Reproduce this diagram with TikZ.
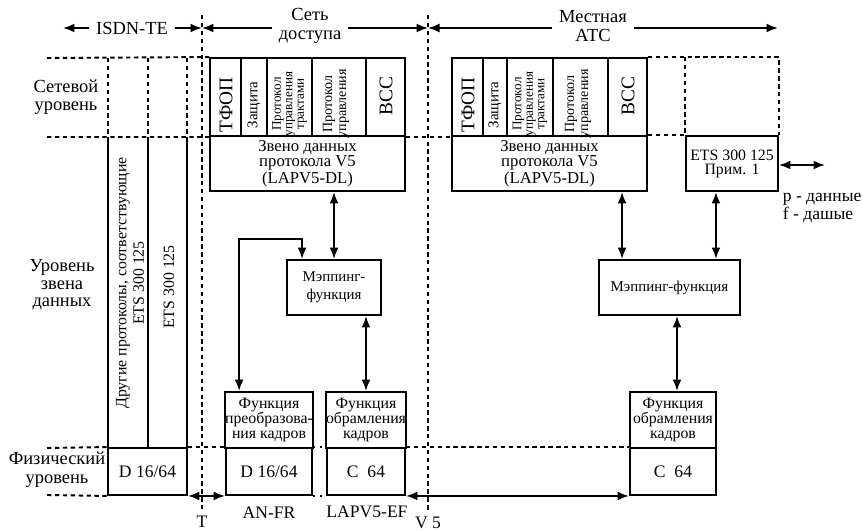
\documentclass[tikz,border=0pt]{standalone}
\usepackage{fontspec}
\setmainfont{Liberation Serif}
\usetikzlibrary{arrows.meta,calc}

\begin{document}
\begin{tikzpicture}[x=0.02cm, y=-0.02cm, line width=1.1pt,
        font=\fontsize{10}{10}\selectfont,
        box/.style = {draw, inner sep=0pt, align=center},
        sized/.style 2 args = {minimum width=#1*0.02cm, minimum height=#2*0.02cm},
        col/.style = {rotate=90, align=center, inner sep=0pt},
        bound/.style = {dash pattern=on 2.5pt off 2pt},
        dots/.style = {dash pattern=on 1pt off 3pt},
        one/.style = {-{Latex[length=2.3mm,width=1.8mm]}},
        dbl/.style = {{Latex[length=2.3mm,width=1.8mm]}-{Latex[length=2.3mm,width=1.8mm]}}]

        \useasboundingbox (0,0) rectangle (863,531);

        % Interfaces T and V5
        \coordinate (Ttop) at (202,15);
        \node (tlab) at (202,522) {T};
        \draw[bound] (Ttop) -- (tlab.north);
        \coordinate (Vtop) at (428,15);
        \node (vlab) at (428,523) {V 5};
        \draw[bound] (Vtop) -- (vlab.north);

        % Headings
        \node[font=\fontsize{10.5}{10.5}\selectfont] (te) at (132,28) {ISDN-TE};
        \coordinate (teL) at (63,28);
        \draw[one] (te.west) -- (teL);
        \draw[one] (te.east) -- (Ttop |- te);
        \node[align=center, font=\fontsize{10.5}{10.5}\selectfont] (an) at (310,26) {Сеть\\доступа};
        \draw[one] (an.west |- te) -- (Ttop |- te);
        \draw[one] (an.east |- te) -- (Vtop |- te);
        \node[align=center, font=\fontsize{10.5}{10.5}\selectfont] (le) at (593,26) {Местная\\АТС};
        \coordinate (leR) at (778,28);
        \draw[one] (le.west |- te) -- (Vtop |- te);
        \draw[one] (le.east |- te) -- (leR);

        % Level names
        \node[align=center, font=\fontsize{10.5}{10.5}\selectfont] (netlev) at (66,97) {Сетевой\\уровень};
        \node[align=center, font=\fontsize{10.5}{10}\selectfont] (linklev) at (62,285) {Уровень\\звена\\данных};
        \node[align=center, font=\fontsize{10.5}{11}\selectfont] (phylev) at (57,470) {Физический\\уровень};

        % ISDN-TE
        \draw[bound] (108,58) -- (108,137);
        \draw[bound] (148,58) -- (148,137);
        \draw[bound] (187,58) -- (187,137);
        \draw (108,137) -- (108,495);
        \draw (148,137) -- (148,448);
        \draw (187,137) -- (187,495);
        \node[col, font=\fontsize{9}{10}\selectfont] (te1) at (130,283) {Другие протоколы, соответствующие\\ETS 300 125};
        \node[col, font=\fontsize{9}{10}\selectfont] (te2) at (169,287) {ETS 300 125};
        \node[box, sized={79}{47}] (tephy) at (147.5,471.5) {D 16/64};

        % Access network: network level
        \node[box, sized={31}{78}] (an1) at (225.5,97) {};
        \node[box, sized={26}{78}] (an2) at (254,97) {};
        \node[box, sized={45}{78}] (an3) at (289.5,97) {};
        \node[box, sized={54}{78}] (an4) at (339,97) {};
        \node[box, sized={39}{78}] (an5) at (385.5,97) {};
        \node[col, font=\fontsize{11}{11}\selectfont] (an1t) at (226,105) {ТФОП};
        \node[col, font=\fontsize{8.5}{8.5}\selectfont] (an2t) at (254,105) {Защита};
        \node[col, font=\fontsize{7.5}{6.5}\selectfont] (an3t) at (289.5,104) {Протокол\\управления\\трактами};
        \node[col, font=\fontsize{8}{8}\selectfont] (an4t) at (336,104) {Протокол\\управления};
        \node[col, font=\fontsize{11}{11}\selectfont] (an5t) at (386,96) {ВСС};

        % Access network: link and physical level
        \node[box, sized={195}{55}, font=\fontsize{9.5}{8.5}\selectfont] (andl) at (307.5,163.5) {Звено данных\\протокола V5\\(LAPV5-DL)};
        \node[box, sized={94}{55}, font=\fontsize{8.5}{10}\selectfont] (anmap) at (334,287.5) {Мэппинг-\\функция};
        \node[box, sized={86}{56}, font=\fontsize{9}{8.5}\selectfont] (anfr) at (269,420) {Функция\\преобразова-\\ния кадров};
        \node[box, sized={86}{47}] (anfrphy) at (269,471.5) {D 16/64};
        \node (anfrlab) at (269,513) {AN-FR};
        \node[box, sized={78}{56}, font=\fontsize{9}{8.5}\selectfont] (anef) at (366,420) {Функция\\обрамления\\кадров};
        \node[box, sized={78}{47}] (anefphy) at (366,471.5) {C~~64};
        \node (aneflab) at (367,512) {LAPV5-EF};

        % Local exchange: network level
        \node[box, sized={31}{78}] (le1) at (467.5,97) {};
        \node[box, sized={24}{78}] (le2) at (495,97) {};
        \node[box, sized={46}{78}] (le3) at (530,97) {};
        \node[box, sized={55}{78}] (le4) at (580.5,97) {};
        \node[box, sized={39}{78}] (le5) at (627.5,97) {};
        \node[col, font=\fontsize{11}{11}\selectfont] (le1t) at (468,105) {ТФОП};
        \node[col, font=\fontsize{8.5}{8.5}\selectfont] (le2t) at (495,105) {Защита};
        \node[col, font=\fontsize{7.5}{6.5}\selectfont] (le3t) at (530,104) {Протокол\\управления\\трактами};
        \node[col, font=\fontsize{8}{8}\selectfont] (le4t) at (578,104) {Протокол\\управления};
        \node[col, font=\fontsize{11}{11}\selectfont] (le5t) at (628,96) {ВСС};

        % Local exchange: link and physical level
        \node[box, sized={195}{55}, font=\fontsize{9.5}{8.5}\selectfont] (ledl) at (549.5,163.5) {Звено данных\\протокола V5\\(LAPV5-DL)};
        \node[box, sized={92}{55}, font=\fontsize{9}{8}\selectfont] (ets) at (732,163.5) {ETS 300 125\\Прим. 1};
        \node[box, sized={141}{55}, font=\fontsize{8.5}{10}\selectfont] (lemap) at (669.5,287.5) {Мэппинг-функция};
        \node[box, sized={86}{56}, font=\fontsize{9}{8.5}\selectfont] (leef) at (673,420) {Функция\\обрамления\\кадров};
        \node[box, sized={86}{47}] (lephy) at (673,471.5) {C~~64};
        \node[align=left, anchor=west] (pf) at (776,208) {p - данные\\f - дашые};

        % Level borders
        \draw[bound] (47,58) -- (an1.north west);
        \draw[bound] (47,137) -- (an1.south west);
        \draw[bound] (an5.south east) -- (le1.south west);
        \draw[bound] (le5.north east) -- (ets.north east |- le5.north) -- (ets.north east);
        \draw[bound] (ets.north west |- le5.north) -- (ets.north west);
        \draw[bound] (ledl.north east) -- (ets.north west);
        \draw[bound] (47,448) -- (tephy.north west);
        \draw[bound] (47,495) -- (tephy.south west);
        \draw[bound] (tephy.north east) -- (anfrphy.north west);
        \draw[dots] (anfrphy.north east) -- (anefphy.north west);
        \draw[dots] (anfrphy.south east) -- (anefphy.south west);
        \draw[bound] (anefphy.north east) -- (lephy.north west);

        % Connections
        \draw[dbl] (tephy.south east) -- (anfrphy.south west);
        \draw[dbl] (anefphy.south east) -- (lephy.south west);
        \draw[dbl] (anmap.north) -- (anmap.north |- andl.south);
        \draw[dbl] ($(anmap.north west)+(16,0)$) -- ++(0,-20) -| ($(anfr.north west)+(15,0)$);
        \draw[dbl] (anef.north) -- (anef.north |- anmap.south);
        \coordinate (lemapA) at ($(lemap.north west)+(24,0)$);
        \draw[dbl] (lemapA) -- (lemapA |- ledl.south);
        \coordinate (lemapB) at ($(lemap.north east)+(-25,0)$);
        \draw[dbl] (lemapB) -- (lemapB |- ets.south);
        \coordinate (leefA) at ($(leef.north)+(4,0)$);
        \draw[dbl] (leefA) -- (leefA |- lemap.south);
        \coordinate (etsR) at (825,165);
        \draw[dbl] (ets.east |- etsR) -- (etsR);

    \end{tikzpicture}
\end{document}
